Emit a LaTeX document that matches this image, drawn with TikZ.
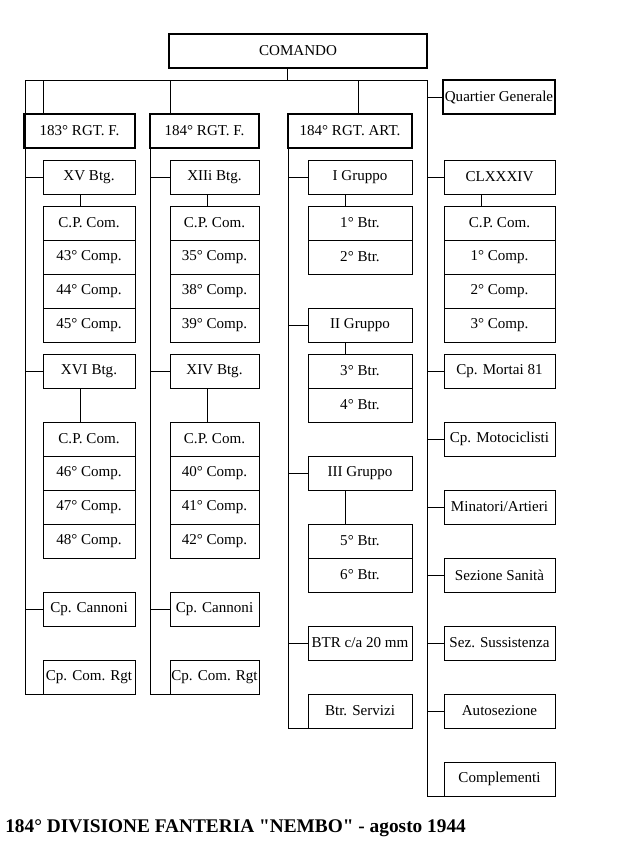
\documentclass[tikz,border=0pt]{standalone}
\usepackage{fontspec}
\setmainfont{Liberation Serif}
\newfontfamily\capfont{Liberation Serif}
\usetikzlibrary{positioning}
\def\drop{27.75pt}

\begin{document}
\begin{tikzpicture}[x=0.75pt, y=-0.75pt,
    unit/.style={draw, line width=0.75pt, anchor=north west, inner sep=0pt, outer sep=0pt,
      minimum height=25.5pt, font=\fontsize{11.3}{13}\selectfont},
    hq/.style={unit, line width=1.6pt},
    colA/.style={unit, minimum width=69pt},
    colB/.style={unit, minimum width=66.75pt},
    colC/.style={unit, minimum width=78pt},
    colD/.style={unit, minimum width=83.25pt},
    link/.style={line width=0.75pt}]

\useasboundingbox (0,0) rectangle (631,843);

% Command, regiments and HQ
\node[hq, minimum width=193.5pt] (comando) at (169,34)  {COMANDO};
\node[hq, minimum width=83.25pt] (rgtA)    at (24,114)  {183° RGT. F.};
\node[hq, minimum width=81.75pt] (rgtB)    at (150,114) {184° RGT. F.};
\node[hq, minimum width=93pt]    (rgtC)    at (288,114) {184° RGT. ART.};
\node[hq, minimum width=84pt]    (qg)      at (443,80)  {Quartier Generale};

% 183° RGT. F.
\node[colA] (xv)     at (43,160) {XV Btg.};
\foreach \lbl [count=\i from 0] in {C.P. Com., 43° Comp., 44° Comp., 45° Comp.}
  \node[colA] (xvc\i) at (43,206+34*\i) {\lbl};
\node[colA] (xvi)    at (43,354) {XVI Btg.};
\foreach \lbl [count=\i from 0] in {C.P. Com., 46° Comp., 47° Comp., 48° Comp.}
  \node[colA] (xvic\i) at (43,422+34*\i) {\lbl};
\node[colA] (cannA)  at (43,592) {Cp. Cannoni};
\node[colA] (comrgtA) at (43,660) {Cp. Com. Rgt};

% 184° RGT. F.
\node[colB] (xiii)   at (170,160) {XIIi Btg.};
\foreach \lbl [count=\i from 0] in {C.P. Com., 35° Comp., 38° Comp., 39° Comp.}
  \node[colB] (xiiic\i) at (170,206+34*\i) {\lbl};
\node[colB] (xiv)    at (170,354) {XIV Btg.};
\foreach \lbl [count=\i from 0] in {C.P. Com., 40° Comp., 41° Comp., 42° Comp.}
  \node[colB] (xivc\i) at (170,422+34*\i) {\lbl};
\node[colB] (cannB)  at (170,592) {Cp. Cannoni};
\node[colB] (comrgtB) at (170,660) {Cp. Com. Rgt};

% 184° RGT. ART.
\node[colC] (gI)     at (308,160) {I Gruppo};
\foreach \lbl [count=\i from 0] in {1° Btr., 2° Btr.}
  \node[colC] (gIc\i) at (308,206+34*\i) {\lbl};
\node[colC] (gII)    at (308,308) {II Gruppo};
\foreach \lbl [count=\i from 0] in {3° Btr., 4° Btr.}
  \node[colC] (gIIc\i) at (308,354+34*\i) {\lbl};
\node[colC] (gIII)   at (308,456) {III Gruppo};
\foreach \lbl [count=\i from 0] in {5° Btr., 6° Btr.}
  \node[colC] (gIIIc\i) at (308,524+34*\i) {\lbl};
\node[colC] (btrca)   at (308,626) {BTR c/a 20 mm};
\node[colC] (servizi) at (308,694) {Btr. Servizi};

% divisional units
\node[colD] (clx)    at (444,160) {CLXXXIV};
\foreach \lbl [count=\i from 0] in {C.P. Com., 1° Comp., 2° Comp., 3° Comp.}
  \node[colD] (clxc\i) at (444,206+34*\i) {\lbl};
\node[colD] (mortai)  at (444,354) {Cp. Mortai 81};
\node[colD] (moto)    at (444,422) {Cp. Motociclisti};
\node[colD] (minat)   at (444,490) {Minatori/Artieri};
\node[colD] (sanita)  at (444,558) {Sezione Sanità};
\node[colD] (sussist) at (444,626) {Sez. Sussistenza};
\node[colD] (autosez) at (444,694) {Autosezione};
\node[colD] (compl)   at (444,762) {Complementi};

% main bus
\coordinate (tl) at (25,80);
\coordinate (tr) at (427,80);
\coordinate (cmdDrop) at (287,80);
\coordinate (dA) at (43,80);
\coordinate (dB) at (170,80);
\coordinate (dC) at (358,80);
\draw[link] (tl) -- (tr);
\draw[link] (comando.south -| cmdDrop) -- (cmdDrop);
\foreach \d/\r in {dA/rgtA, dB/rgtB, dC/rgtC}
  \draw[link] (\d) -- (\d |- \r.north);
\draw[link] (qg.west -| tr) -- (qg.west);

% column buses
\draw[link] (tl) |- (comrgtA.south west);
\draw[link] (rgtB.south west) |- (comrgtB.south west);
\draw[link] (rgtC.south west) |- (servizi.south west);
\draw[link] (tr) |- (compl.south west);

% branches off the buses
\foreach \n in {xv, xvi, cannA}
  \draw[link] (\n.west -| tl) -- (\n.west);
\foreach \n in {xiii, xiv, cannB}
  \draw[link] (\n.west -| rgtB.west) -- (\n.west);
\foreach \n in {gI, gII, gIII, btrca}
  \draw[link] (\n.west -| rgtC.west) -- (\n.west);
\foreach \n in {clx, mortai, moto, minat, sanita, sussist, autosez}
  \draw[link] (\n.west -| tr) -- (\n.west);

% drops to the company stacks
\foreach \a/\b in {xv/xvc0, xvi/xvic0, xiii/xiiic0, xiv/xivc0, gI/gIc0, gII/gIIc0, gIII/gIIIc0, clx/clxc0}
  \draw[link] ([xshift=\drop]\a.south west) -- ([xshift=\drop]\b.north west);

% caption
\node[anchor=base west, inner sep=0pt, font=\capfont\bfseries\fontsize{14.5}{16}\selectfont] (title) at (5,832)
  {184° DIVISIONE FANTERIA "NEMBO" - agosto 1944};

\end{tikzpicture}
\end{document}
